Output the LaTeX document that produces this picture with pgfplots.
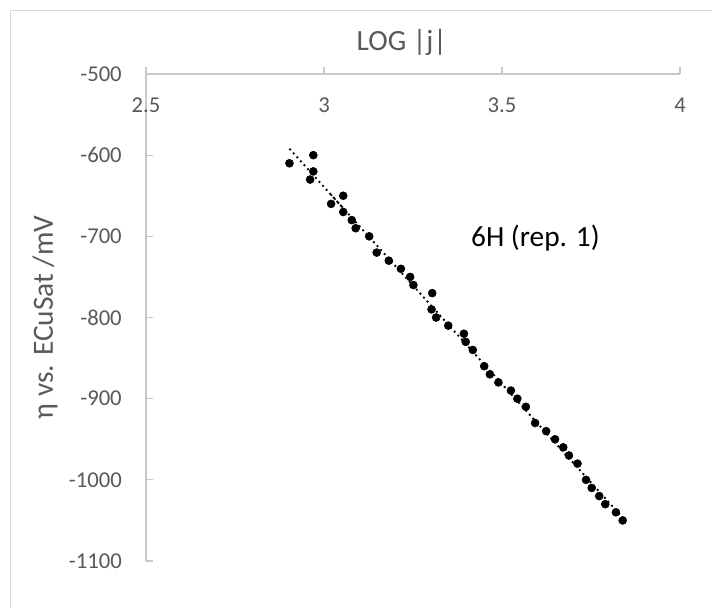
\documentclass[border=0pt]{standalone}
\usepackage{fontspec}
\setmainfont{Carlito}
\usepackage{pgfplots}
\usepackage{pgfplotstable}
\pgfplotsset{compat=1.18}

\definecolor{txtgray}{RGB}{89,89,89}
\definecolor{axgray}{RGB}{200,200,200}
\definecolor{framegray}{RGB}{217,217,217}

% LOG|j| vs overpotential, 6H rep. 1
\pgfplotstableread{
x      y
2.903  -610
2.970  -600
2.970  -620
2.961  -630
3.054  -650
3.020  -660
3.054  -670
3.078  -680
3.089  -690
3.127  -700
3.148  -720
3.182  -730
3.216  -740
3.242  -750
3.251  -760
3.304  -770
3.302  -790
3.315  -800
3.349  -810
3.393  -820
3.398  -830
3.418  -840
3.450  -860
3.466  -870
3.490  -880
3.525  -890
3.543  -900
3.567  -910
3.593  -930
3.624  -940
3.649  -950
3.672  -960
3.688  -970
3.712  -980
3.736  -1000
3.752  -1010
3.773  -1020
3.790  -1030
3.820  -1040
3.839  -1050
}\datatable

\begin{document}
\begin{tikzpicture}
% 1 px of the reference = 0.75pt
\path[use as bounding box] (0pt,0pt) rectangle (534pt,456pt);
\draw[framegray, line width=0.75pt] (7.9pt,0pt) -- (7.9pt,447.9pt) -- (534pt,447.9pt);

\begin{axis}[
    at={(109.5pt,35.25pt)}, anchor=south west,
    scale only axis,
    width=400.5pt, height=365.25pt,
    xmin=2.5, xmax=4, ymin=-1100, ymax=-500,
    xtick={2.5,3,3.5,4}, ytick={-1100,-1000,...,-500},
    axis x line*=top, axis y line*=left,
    axis line style={axgray, line width=0.9pt},
    every tick/.style={axgray, line width=0.9pt},
    major tick length=5pt,
    xtick align=outside, ytick align=inside,
    /pgf/number format/set thousands separator={},
    /pgf/number format/assume math mode=true,
    tick label style={font=\fontsize{17}{17}\selectfont, text=txtgray},
    xticklabel style={anchor=north, inner sep=0pt, yshift=-22.5pt},
    yticklabel style={anchor=east, inner sep=0pt, xshift=-18pt},
    xlabel={LOG |j|},
    ylabel={η vs. ECuSat /mV},
    label style={font=\fontsize{22}{22}\selectfont, text=txtgray},
    xlabel style={at={(axis description cs:0.479,1.065)}, anchor=center},
    ylabel style={at={(axis description cs:-0.189,0.5)}, anchor=center},
    clip=false,
]
\addplot[only marks, mark=*, mark size=3pt, black] table[x=x, y=y] {\datatable};
\addplot[black, line width=1.4pt, dash pattern=on 1.4pt off 2.6pt, no marks]
    table[x=x, y={create col/linear regression={y=y}}] {\datatable};
\node[font=\fontsize{22}{22}\selectfont, text=black] at (axis cs:3.594,-702) {6H (rep. 1)};
\end{axis}
\end{tikzpicture}
\end{document}
